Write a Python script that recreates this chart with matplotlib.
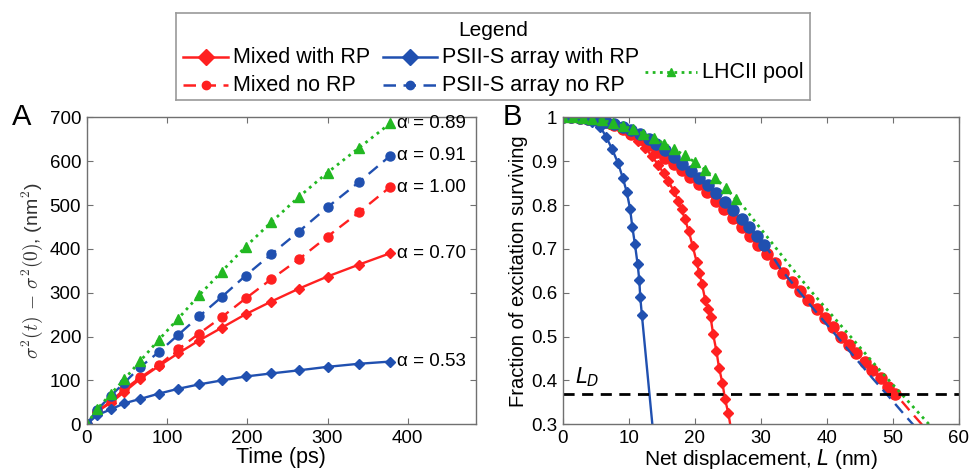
import matplotlib
matplotlib.use("Agg")
import matplotlib.pyplot as plt

plt.rcParams['font.family'] = ['Liberation Sans', 'DejaVu Sans']
plt.rcParams['mathtext.fontset'] = 'cm'

W, H = 969, 469

RED = '#ff2020'
BLUE = '#2050b0'
GREEN = '#22b822'
FRAME = '#707070'

# ---- panel A data: sigma^2 growth vs time
t_ps = [0, 13, 30, 47, 67, 90, 114, 140, 168, 198, 230, 264, 300, 339, 378]
a_mix_rp = [0, 29, 49, 74, 104, 133, 162, 191, 220, 251, 280, 309, 337, 364, 390]
a_mix_no = [0, 30, 52, 80, 107, 135, 171, 207, 244, 287, 331, 376, 428, 483, 541]
a_psii_rp = [0, 21, 34, 48, 58, 70, 81, 91, 100, 109, 116, 123, 131, 138, 143]
a_psii_no = [0, 33, 65, 95, 131, 165, 204, 246, 290, 339, 388, 439, 495, 552, 612]
a_lhcii = [0, 35, 69, 103, 145, 193, 241, 294, 348, 405, 461, 518, 574, 630, 686]
alpha_labels = {'lhcii': '0.89', 'psii_no': '0.91', 'mix_no': '1.00',
                'mix_rp': '0.70', 'psii_rp': '0.53'}

# ---- panel B data: survival vs net displacement
b_mix_rp_x = [0, 2.5, 5, 7, 8.7, 10.2, 11.4, 12.5, 13.5, 14.5, 15.3, 16.0, 16.8, 17.5,
              18.0, 18.5, 19.1, 19.7, 20.3, 20.7, 21.1, 21.6, 22.0, 22.4, 22.8, 23.3,
              23.7, 24.2, 24.6, 25.1, 25.6]
b_mix_rp_y = [1.0, 0.998, 0.993, 0.985, 0.975, 0.962, 0.947, 0.930, 0.912, 0.891, 0.872,
              0.854, 0.833, 0.810, 0.790, 0.769, 0.740, 0.706, 0.670, 0.645, 0.620, 0.583,
              0.563, 0.545, 0.505, 0.466, 0.428, 0.394, 0.357, 0.325, 0.28]

b_psii_rp_x = [0, 4.4, 5.7, 6.6, 7.5, 8.4, 9.1, 9.7, 10.2, 10.55, 10.95, 11.35, 11.6,
               11.75, 12.0, 13.9]
b_psii_rp_y = [1.0, 0.989, 0.978, 0.955, 0.927, 0.895, 0.862, 0.830, 0.792, 0.750, 0.710,
               0.665, 0.630, 0.590, 0.549, 0.25]

b_mix_no_x = [0, 1.3, 2.6, 3.9, 5.2, 6.5, 7.8, 9.1, 10.4, 11.7, 13.0, 14.3, 15.5, 16.8,
              18.0, 19.3, 20.6, 21.9, 23.2, 24.5, 25.8, 27.1, 28.4, 29.6, 30.9, 32.2,
              33.4, 34.7, 36.0, 37.2, 38.5, 39.7, 40.9, 42.1, 43.4, 44.5, 45.8, 46.9,
              48.2, 49.3, 50.4, 51.4, 53.1, 54.4, 55.2]
b_mix_no_y = [1.0, 1.0, 0.999, 0.997, 0.994, 0.989, 0.982, 0.973, 0.963, 0.950, 0.936,
              0.921, 0.907, 0.894, 0.879, 0.864, 0.847, 0.829, 0.810, 0.792, 0.771, 0.751,
              0.729, 0.709, 0.688, 0.667, 0.646, 0.625, 0.605, 0.583, 0.562, 0.542, 0.521,
              0.500, 0.481, 0.462, 0.443, 0.424, 0.405, 0.386, 0.369, 0.352, 0.322, 0.300,
              0.286]
b_mix_no_marked = 41

b_psii_no_x = [0, 1.3, 2.6, 3.9, 5.2, 6.5, 7.8, 9.1, 10.4, 11.7, 13.0, 14.2, 15.5, 16.8,
               18.1, 19.4, 20.7, 22.0, 23.3, 24.6, 25.8, 27.1, 28.3, 29.4, 30.5,
               31.5, 33, 35, 38, 41, 44, 47, 50, 52, 53, 54]
b_psii_no_y = [1.0, 1.0, 0.999, 0.997, 0.994, 0.990, 0.985, 0.978, 0.971, 0.961, 0.951,
               0.938, 0.925, 0.909, 0.894, 0.877, 0.861, 0.845, 0.827, 0.808, 0.789, 0.768,
               0.749, 0.729, 0.709,
               0.690, 0.655, 0.618, 0.563, 0.510, 0.457, 0.404, 0.353, 0.318, 0.301, 0.284]
b_psii_no_marked = 25

b_lhcii_x = [0, 1.5, 3.0, 4.5, 6.0, 7.6, 9.1, 10.6, 12.2, 13.8, 15.4, 16.9, 18.5, 20.0,
             21.6, 23.1, 24.7, 26.2,
             27.4, 29.0, 31.0, 34.4, 38.0, 43.5, 48.0, 52.0, 55.5, 56.5]
b_lhcii_y = [1.0, 1.0, 0.999, 0.997, 0.993, 0.988, 0.981, 0.973, 0.963, 0.952, 0.940,
             0.927, 0.913, 0.898, 0.880, 0.861, 0.839, 0.814,
             0.796, 0.765, 0.727, 0.662, 0.597, 0.502, 0.424, 0.358, 0.300, 0.283]
b_lhcii_marked = 18

L_D = 0.368

styles = {
    'mix_rp': dict(color=RED, ls='-', marker='D', label='Mixed with RP'),
    'mix_no': dict(color=RED, ls=(0, (5, 3)), marker='o', label='Mixed no RP'),
    'psii_rp': dict(color=BLUE, ls='-', marker='D', label='PSII-S array with RP'),
    'psii_no': dict(color=BLUE, ls=(0, (5, 3)), marker='o', label='PSII-S array no RP'),
    'lhcii': dict(color=GREEN, ls=(0, (1, 1.6)), marker='^', label='LHCII pool'),
}

fig = plt.figure(figsize=(W / 100, H / 100), dpi=100)
axA = fig.add_axes([86.7 / W, 1 - 424.3 / H, (476 - 86.7) / W, (424.3 - 117.3) / H])
axB = fig.add_axes([562.7 / W, 1 - 424.3 / H, (958.7 - 562.7) / W, (424.3 - 117.3) / H])


def style_axes(ax):
    for s in ax.spines.values():
        s.set_color(FRAME)
        s.set_linewidth(1.0)
    ax.tick_params(direction='in', top=True, right=True, length=4, width=0.8,
                   color=FRAME, labelsize=13.5, pad=4)


# ---- panel A
a_series = [('mix_rp', a_mix_rp), ('mix_no', a_mix_no), ('psii_rp', a_psii_rp),
            ('psii_no', a_psii_no), ('lhcii', a_lhcii)]
for key, vals in a_series:
    st = styles[key]
    ms = 5.5 if st['marker'] == 'D' else 6.5
    lw = 2 if key == 'lhcii' else 1.7
    axA.plot(t_ps, vals, color=st['color'], ls=st['ls'], marker=st['marker'],
             ms=ms, lw=lw, mec=st['color'])
    axA.text(386, vals[-1], '\u03b1 = ' + alpha_labels[key], fontsize=13.5,
             va='center', ha='left')

axA.set_xlim(0, 485)
axA.set_ylim(0, 700)
axA.set_xticks([0, 100, 200, 300, 400])
axA.set_yticks(range(0, 701, 100))
axA.set_xlabel('Time (ps)', fontsize=15.5, labelpad=0)
axA.set_ylabel(r'$\sigma^2(t)\,-\,\sigma^2(0)$, (nm$^2$)', fontsize=14, color='#333333',
               labelpad=3)
style_axes(axA)

# ---- panel B
b_series = [('mix_rp', b_mix_rp_x, b_mix_rp_y, None),
            ('mix_no', b_mix_no_x, b_mix_no_y, b_mix_no_marked),
            ('psii_rp', b_psii_rp_x, b_psii_rp_y, None),
            ('psii_no', b_psii_no_x, b_psii_no_y, b_psii_no_marked),
            ('lhcii', b_lhcii_x, b_lhcii_y, b_lhcii_marked)]
for key, xs, ys, nmark in b_series:
    st = styles[key]
    if st['marker'] == 'D':
        ms = 5.5
    elif st['marker'] == 'o':
        ms = 8
    else:
        ms = 7.5
    lw = 2 if key == 'lhcii' else 1.7
    mk = list(range(nmark)) if nmark else None
    axB.plot(xs, ys, color=st['color'], ls=st['ls'], marker=st['marker'], ms=ms,
             lw=lw, mec=st['color'], markevery=mk)

axB.axhline(L_D, color='black', lw=2, ls=(0, (4, 2.7)))
axB.text(1.8, L_D + 0.012, r'$L_D$', fontsize=15, ha='left', va='bottom',
         math_fontfamily='dejavusans')
axB.set_xlim(0, 60)
axB.set_ylim(0.3, 1.0)
axB.set_xticks(range(0, 61, 10))
b_yticks = [0.3, 0.4, 0.5, 0.6, 0.7, 0.8, 0.9, 1.0]
axB.set_yticks(b_yticks)
axB.set_yticklabels(['0.3', '0.4', '0.5', '0.6', '0.7', '0.8', '0.9', '1'])
axB.set_xlabel('Net displacement, $L$ (nm)', fontsize=15, labelpad=0,
               math_fontfamily='dejavusans')
axB.set_ylabel('Fraction of excitation surviving', fontsize=14.5, labelpad=2)
style_axes(axB)

fig.text(22 / W, 1 - 117 / H, 'A', fontsize=21, ha='center', va='center')
fig.text(512 / W, 1 - 117 / H, 'B', fontsize=21, ha='center', va='center')

# ---- legend box (MATLAB style, third column centred)
lx0, lx1, ly0, ly1 = 176, 810, 13, 100
leg = fig.add_axes([lx0 / W, 1 - ly1 / H, (lx1 - lx0) / W, (ly1 - ly0) / H])
leg.set_xlim(lx0, lx1)
leg.set_ylim(ly1, ly0)
leg.set_xticks([])
leg.set_yticks([])
for s in leg.spines.values():
    s.set_color('#9a9a9a')
    s.set_linewidth(1.2)
leg.text((lx0 + lx1) / 2, 30, 'Legend', fontsize=15, ha='center', va='center')

leg_slots = {'mix_rp': (183, 228, 57), 'mix_no': (183, 228, 85),
             'psii_rp': (383, 437, 57), 'psii_no': (383, 437, 85),
             'lhcii': (645, 697, 72)}
for key, (xa, xb, yy) in leg_slots.items():
    st = styles[key]
    lw = 2 if key == 'lhcii' else 1.8
    leg.plot([xa, xb], [yy, yy], color=st['color'], ls=st['ls'], lw=lw)
    ms = 8.5 if st['marker'] == 'D' else 6
    leg.plot([(xa + xb) / 2], [yy], color=st['color'], marker=st['marker'], ms=ms,
             ls='none')
    leg.text(xb + 5, yy, st['label'], fontsize=15.5, ha='left', va='center')

fig.savefig('out.png', dpi=100)
